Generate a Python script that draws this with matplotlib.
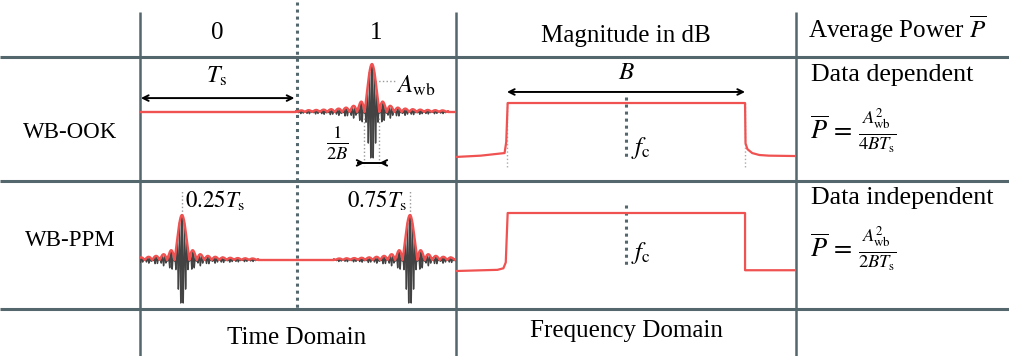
import numpy as np
import matplotlib
matplotlib.use("Agg")
import matplotlib.pyplot as plt

plt.rcParams['font.family'] = ['Liberation Serif', 'DejaVu Serif']
plt.rcParams['mathtext.fontset'] = 'stix'

# table layout (pixels of the 1009x356 picture)
W, H = 1009, 356
col_x = [140, 456, 796]          # solid column rules
bit_x = 297                      # dotted rule between bit 0 and bit 1
row_y = [57, 181, 309]           # horizontal rules

# data
bits = [0, 1]
ppm_offsets = [0.25, 0.75]       # pulse position inside the slot, in Ts
lobe = 0.049                     # first zero of the sinc, in Ts (1/2B)
carrier = 62.0                   # carrier cycles per Ts

# spectra (normalised frequency (f - fc)/B, magnitude in dB)
ook_f = [-0.714, -0.61, -0.51, -0.503, -0.497, 0.5, 0.502, 0.51, 0.53, 0.56, 0.6, 0.714]
ook_db = [-41.5, -40.5, -38.5, -30.0, 0.0, 0.0, -31.0, -35.5, -38.5, -40.0, -40.5, -40.8]
ppm_f = [-0.714, -0.6, -0.54, -0.515, -0.505, -0.497, 0.5, 0.5, 0.714]
ppm_db = [-44.6, -44.0, -43.7, -42.5, -38.0, 0.0, 0.0, -44.0, -44.0]

RED = '#f05252'
GREY = '#434343'
RULE = '#53676c'

fig = plt.figure(figsize=(W / 100, H / 100), dpi=100)
bg = fig.add_axes([0, 0, 1, 1])
bg.set_xlim(0, W)
bg.set_ylim(H, 0)
bg.axis('off')

# table rules
for y in row_y:
    bg.plot([0, W], [y, y], color=RULE, lw=2.2, solid_capstyle='butt')
for x in col_x:
    bg.plot([x, x], [12, H], color=RULE, lw=1.8, solid_capstyle='butt')
bg.plot([bit_x, bit_x], [2, 310], color=RULE, lw=2.2, ls=(0, (1, 1.3)))

fs = 18
bg.text(217, 33, '0', fontsize=fs, ha='center', va='center')
bg.text(376, 33, '1', fontsize=fs, ha='center', va='center')
bg.text(626, 36, 'Magnitude in dB', fontsize=fs, ha='center', va='center')
bg.text(897, 29, r'Average Power $\overline{P}$', fontsize=fs, ha='center', va='center')
bg.text(70, 133, 'WB-OOK', fontsize=16.5, ha='center', va='center')
bg.text(70, 241, 'WB-PPM', fontsize=16.5, ha='center', va='center')
bg.text(297, 338, 'Time Domain', fontsize=fs, ha='center', va='center')
bg.text(626, 331, 'Frequency Domain', fontsize=fs, ha='center', va='center')
bg.text(811, 75, 'Data dependent', fontsize=18.7, ha='left', va='center')
bg.text(811, 198, 'Data independent', fontsize=18.7, ha='left', va='center')
bg.text(810, 131, r'$\overline{P}\,=\,\frac{A_{\mathrm{wb}}^{2}}{4BT_{\mathrm{s}}}$', fontsize=19, ha='left', va='center')
bg.text(810, 249, r'$\overline{P}\,=\,\frac{A_{\mathrm{wb}}^{2}}{2BT_{\mathrm{s}}}$', fontsize=19, ha='left', va='center')


def cell_axes(x0, x1, y0, y1):
    ax = fig.add_axes([x0 / W, (H - y1) / H, (x1 - x0) / W, (y1 - y0) / H])
    ax.axis('off')
    return ax


def draw_pulses(ax, centers, tmin, tmax):
    t = np.linspace(tmin, tmax, 20000)
    env = np.zeros_like(t)
    for c in centers:
        m = np.abs(t - c) <= 0.5
        tt = t[m]
        s = np.sinc((tt - c) / lobe)
        ax.plot(tt, s * np.cos(2 * np.pi * carrier * (tt - c)), color=GREY, lw=1.0, zorder=2)
        env[m] += np.abs(s)
    ax.plot(t, env, color=RED, lw=1.7, zorder=3)


t_lim = (-0.026, 2.053)

# WB-OOK, time domain
ax1 = cell_axes(col_x[0], col_x[1], row_y[0], row_y[1])
ax1.set_xlim(*t_lim)
ax1.set_ylim(-1.4375, 1.146)
draw_pulses(ax1, [b + 0.5 for b in bits if b == 1], *t_lim)
ax1.annotate('', xy=(-0.02, 0.29), xytext=(0.99, 0.29),
             arrowprops=dict(arrowstyle='<->', lw=1.4, color='black', shrinkA=0, shrinkB=0))
ax1.text(0.48, 0.74, r'$T_{\mathrm{s}}$', fontsize=17.5, ha='center', va='center')
ax1.plot([1.52, 1.655], [0.65, 0.65], color='#999999', lw=1, ls=':')
ax1.text(1.655, 0.55, r'$A_{\mathrm{wb}}$', fontsize=18, ha='left', va='center')
for d in (-lobe, lobe):
    ax1.plot([1.5 + d, 1.5 + d], [-0.12, -1.13], color='#999999', lw=1, ls=':')
ax1.plot([1.5 - lobe - 0.04, 1.5 + lobe + 0.04], [-1.06, -1.06], color='black', lw=1.4)
ax1.annotate('', xy=(1.5 - lobe, -1.06), xytext=(1.5 - lobe - 0.04, -1.06),
             arrowprops=dict(arrowstyle='->', lw=1.4, color='black', shrinkA=0, shrinkB=0))
ax1.annotate('', xy=(1.5 + lobe, -1.06), xytext=(1.5 + lobe + 0.04, -1.06),
             arrowprops=dict(arrowstyle='->', lw=1.4, color='black', shrinkA=0, shrinkB=0))
ax1.text(1.27, -0.66, r'$\frac{1}{2B}$', fontsize=19, ha='center', va='center')

# WB-PPM, time domain
ax2 = cell_axes(col_x[0], col_x[1], row_y[1], row_y[2])
ax2.set_xlim(*t_lim)
ax2.set_ylim(-1.089, 1.756)
ppm_centers = [b + ppm_offsets[b] for b in bits]
draw_pulses(ax2, ppm_centers, *t_lim)
for c, ha, dx in zip(ppm_centers, ['left', 'right'], [0.02, -0.02]):
    ax2.plot([c, c], [1.0, 1.56], color='#999999', lw=1, ls=':')
    ax2.text(c + dx, 1.33, r'$%.2fT_{\mathrm{s}}$' % (c % 1), fontsize=16.5, ha=ha, va='center')

# spectra
for f, db, y0, y1, ylim, cl, fcy in [(ook_f, ook_db, row_y[0], row_y[1], (-60, 35.4), (4.6, -43.8), -34.6),
                                     (ppm_f, ppm_db, row_y[1], row_y[2], (-73.8, 24.6), (6.2, -42.3), -30.8)]:
    ax = cell_axes(col_x[1], col_x[2], y0, y1)
    ax.set_xlim(-0.714, 0.714)
    ax.set_ylim(*ylim)
    ax.plot(f, db, color=RED, lw=1.6, zorder=3)
    ax.plot([0, 0], cl, color=RULE, lw=2.2, ls=(0, (1, 1.3)))
    ax.text(0.022, fcy, r'$f_{\mathrm{c}}$', fontsize=18, ha='left', va='center')
    if f is ook_f:
        for e in (-0.5, 0.5):
            ax.plot([e, e], [0, -50], color='#aaaaaa', lw=1, ls=':', zorder=2)
        ax.annotate('', xy=(-0.5, 8.5), xytext=(0.5, 8.5),
                    arrowprops=dict(arrowstyle='<->', lw=1.4, color='black', shrinkA=0, shrinkB=0))
        ax.text(0, 23, r'$B$', fontsize=18, ha='center', va='center')

fig.savefig('out.png', dpi=100)
